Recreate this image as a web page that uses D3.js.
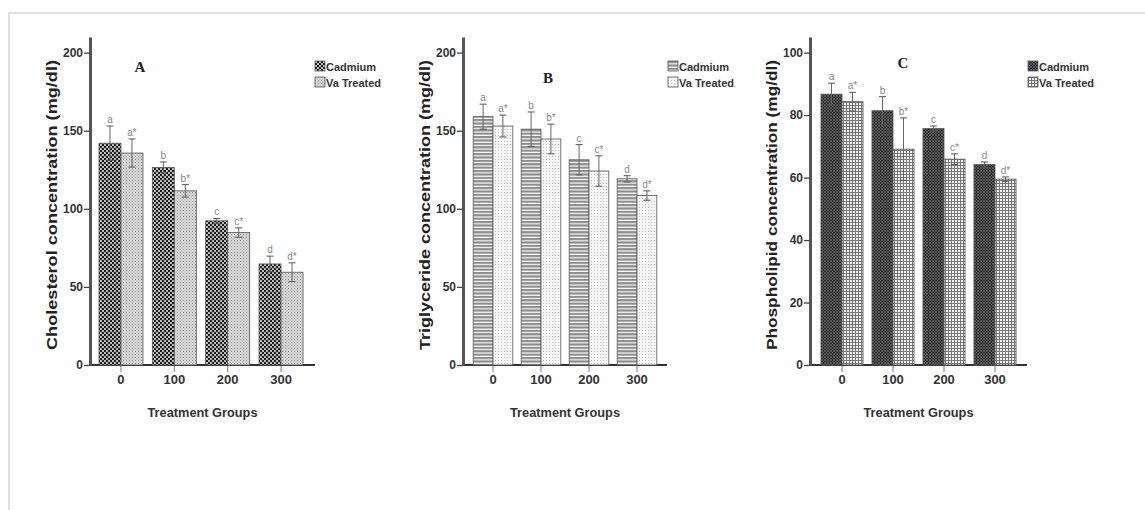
<!DOCTYPE html>
<html>
<head>
<meta charset="utf-8">
<script src="https://d3js.org/d3.v7.min.js"></script>
<style>
  body { margin: 0; background: #fff; }
  svg { display: block; }
  text { font-family: "Liberation Sans", Arial, sans-serif; }
</style>
</head>
<body>
<div id="chart"></div>
<script>
// data
var groups = ["0", "100", "200", "300"];
var seriesNames = ["Cadmium", "Va Treated"];

var cholCad = [142, 126.5, 92.3, 64.7];
var cholCadErr = [11, 3.5, 1.5, 5];
var cholVa = [135.7, 111.5, 84.8, 59.4];
var cholVaErr = [9, 4, 3, 6];

var trigCad = [159, 151, 131.4, 119.2];
var trigCadErr = [8, 11, 9.7, 2];
var trigVa = [153, 144.7, 124.2, 108.5];
var trigVaErr = [7, 9.5, 9.7, 3];

var phosCad = [86.7, 81.4, 75.7, 64.2];
var phosCadErr = [3.5, 4.5, 0.8, 0.8];
var phosVa = [84.3, 69.1, 65.9, 59.5];
var phosVaErr = [3, 10, 1.7, 0.7];

var lettersCad = ["a", "b", "c", "d"];
var lettersVa = ["a*", "b*", "c*", "d*"];

var ticksAB = [0, 50, 100, 150, 200];
var ticksC = [0, 20, 40, 60, 80, 100];

var svg = d3.select("#chart").append("svg")
    .attr("width", 1145)
    .attr("height", 510);

// ---- fill patterns (SPSS style)
var defs = svg.append("defs");

// A cadmium: black with white dots
var p = defs.append("pattern").attr("id", "pA1").attr("patternUnits", "userSpaceOnUse")
    .attr("width", 4).attr("height", 4);
p.append("rect").attr("width", 4).attr("height", 4).attr("fill", "#1e1e1e");
p.append("circle").attr("cx", 1).attr("cy", 1).attr("r", 0.95).attr("fill", "#fff");
p.append("circle").attr("cx", 3).attr("cy", 3).attr("r", 0.95).attr("fill", "#fff");

// A treated: light grey fine dots
p = defs.append("pattern").attr("id", "pA2").attr("patternUnits", "userSpaceOnUse")
    .attr("width", 3).attr("height", 3);
p.append("rect").attr("width", 3).attr("height", 3).attr("fill", "#dcdcdc");
p.append("rect").attr("x", 0).attr("y", 0).attr("width", 1).attr("height", 1).attr("fill", "#8a8a8a");
p.append("rect").attr("x", 1.5).attr("y", 1.5).attr("width", 1).attr("height", 1).attr("fill", "#9a9a9a");

// B cadmium: horizontal stripes
p = defs.append("pattern").attr("id", "pB1").attr("patternUnits", "userSpaceOnUse")
    .attr("width", 4).attr("height", 3.4);
p.append("rect").attr("width", 4).attr("height", 3.4).attr("fill", "#fff");
p.append("rect").attr("width", 4).attr("height", 2.2).attr("fill", "#8c8c8c");

// B treated: very light dots
p = defs.append("pattern").attr("id", "pB2").attr("patternUnits", "userSpaceOnUse")
    .attr("width", 3).attr("height", 3);
p.append("rect").attr("width", 3).attr("height", 3).attr("fill", "#f6f6f6");
p.append("rect").attr("x", 0).attr("y", 0).attr("width", 1).attr("height", 1).attr("fill", "#c4c4c4");

// C cadmium: dark crosshatch
p = defs.append("pattern").attr("id", "pC1").attr("patternUnits", "userSpaceOnUse")
    .attr("width", 3).attr("height", 3);
p.append("rect").attr("width", 3).attr("height", 3).attr("fill", "#2c2c2c");
p.append("path").attr("d", "M0,0L3,3M3,0L0,3").attr("stroke", "#6a6a6a").attr("stroke-width", 0.7);

// C treated: grid
p = defs.append("pattern").attr("id", "pC2").attr("patternUnits", "userSpaceOnUse")
    .attr("width", 3).attr("height", 3);
p.append("rect").attr("width", 3).attr("height", 3).attr("fill", "#f2f2f2");
p.append("path").attr("d", "M0,0.5H3M0.5,0V3").attr("stroke", "#777").attr("stroke-width", 1);

// ---- frame
svg.append("path")
    .attr("d", "M9,510V13H1145")
    .attr("fill", "none")
    .attr("stroke", "#d6d6d6")
    .attr("stroke-width", 1.5);

var panels = [
    { label: "A", title: "Cholesterol concentration (mg/dl)", cad: cholCad, cadErr: cholCadErr,
      va: cholVa, vaErr: cholVaErr, ticks: ticksAB, max: 210, fills: ["url(#pA1)", "url(#pA2)"],
      axisX: 90, xEnd: 315, bandL: 94.3, bandR: 307.7, titleX: 52, labelX: 140, labelY: 72, legX: 315 },
    { label: "B", title: "Triglyceride concentration (mg/dl)", cad: trigCad, cadErr: trigCadErr,
      va: trigVa, vaErr: trigVaErr, ticks: ticksAB, max: 210, fills: ["url(#pB1)", "url(#pB2)"],
      axisX: 463, xEnd: 667, bandL: 469, bandR: 661, titleX: 425, labelX: 548, labelY: 83, legX: 668 },
    { label: "C", title: "Phospholipid concentration (mg/dl)", cad: phosCad, cadErr: phosCadErr,
      va: phosVa, vaErr: phosVaErr, ticks: ticksC, max: 105, fills: ["url(#pC1)", "url(#pC2)"],
      axisX: 810, xEnd: 1027, bandL: 816.5, bandR: 1020.5, titleX: 772, labelX: 903, labelY: 68, legX: 1028 }
];

var yTop = 37, yBase = 365;

panels.forEach(function (pn) {
    var g = svg.append("g");

    var y = d3.scaleLinear().domain([0, pn.max]).range([yBase, yTop]);
    var x = d3.scaleBand().domain(groups).range([pn.bandL, pn.bandR])
        .paddingInner(0.175).paddingOuter(0.0875);
    var xs = d3.scaleBand().domain([0, 1]).range([0, x.bandwidth()]);

    // baseline
    g.append("line")
        .attr("x1", pn.axisX).attr("x2", pn.xEnd)
        .attr("y1", yBase).attr("y2", yBase)
        .attr("stroke", "#333").attr("stroke-width", 2);

    // bars
    var rows = [];
    groups.forEach(function (k, i) {
        rows.push({ g: k, s: 0, v: pn.cad[i], e: pn.cadErr[i], t: lettersCad[i] });
        rows.push({ g: k, s: 1, v: pn.va[i], e: pn.vaErr[i], t: lettersVa[i] });
    });

    g.selectAll("rect.bar").data(rows).enter().append("rect")
        .attr("class", "bar")
        .attr("x", function (d) { return x(d.g) + xs(d.s); })
        .attr("y", function (d) { return y(d.v); })
        .attr("width", xs.bandwidth())
        .attr("height", function (d) { return yBase - y(d.v); })
        .attr("fill", function (d) { return pn.fills[d.s]; })
        .attr("stroke", "#555")
        .attr("stroke-width", 0.8);

    // error bars
    var eb = g.selectAll("g.err").data(rows).enter().append("g")
        .attr("class", "err")
        .attr("transform", function (d) { return "translate(" + (x(d.g) + xs(d.s) + xs.bandwidth() / 2) + ",0)"; });
    eb.append("line")
        .attr("y1", function (d) { return y(d.v - d.e); })
        .attr("y2", function (d) { return y(d.v + d.e); })
        .attr("stroke", "#666").attr("stroke-width", 1);
    eb.append("line")
        .attr("x1", -3.5).attr("x2", 3.5)
        .attr("y1", function (d) { return y(d.v + d.e); })
        .attr("y2", function (d) { return y(d.v + d.e); })
        .attr("stroke", "#555").attr("stroke-width", 1);
    eb.append("line")
        .attr("x1", -3.5).attr("x2", 3.5)
        .attr("y1", function (d) { return y(d.v - d.e); })
        .attr("y2", function (d) { return y(d.v - d.e); })
        .attr("stroke", "#555").attr("stroke-width", 1);
    eb.append("text")
        .attr("y", function (d) { return y(d.v + d.e) - 3; })
        .attr("text-anchor", "middle")
        .style("font-size", "10px")
        .attr("fill", "#888")
        .text(function (d) { return d.t; });

    // y axis
    var yAxis = g.append("g")
        .attr("transform", "translate(" + pn.axisX + ",0)")
        .call(d3.axisLeft(y).tickValues(pn.ticks).tickSize(6).tickSizeOuter(0).tickPadding(1));
    yAxis.select(".domain").attr("stroke", "#555").attr("stroke-width", 3);
    yAxis.selectAll(".tick line").attr("stroke", "#444").attr("stroke-width", 1.3);
    yAxis.selectAll(".tick text")
        .attr("fill", "#333")
        .style("font-family", "'Liberation Sans Narrow', 'Liberation Sans', sans-serif")
        .style("font-size", "12px")
        .style("font-weight", "bold");

    // x axis ticks and labels
    var xAxis = g.append("g")
        .attr("transform", "translate(0," + (yBase + 1) + ")")
        .call(d3.axisBottom(x).tickSize(6).tickPadding(3));
    xAxis.select(".domain").remove();
    xAxis.selectAll(".tick line").attr("stroke", "#777").attr("stroke-width", 1);
    xAxis.selectAll(".tick text")
        .attr("fill", "#333")
        .style("font-family", "'Liberation Sans Narrow', 'Liberation Sans', sans-serif")
        .style("font-size", "13px")
        .style("font-weight", "bold");

    // axis titles
    g.append("text")
        .attr("transform", "translate(" + (pn.titleX + 5) + "," + 205 + ") rotate(-90)")
        .attr("text-anchor", "middle")
        .attr("textLength", 290)
        .attr("lengthAdjust", "spacingAndGlyphs")
        .style("font-size", "14px")
        .style("font-weight", "bold")
        .attr("fill", "#222")
        .text(pn.title);

    g.append("text")
        .attr("x", (pn.axisX + pn.xEnd) / 2)
        .attr("y", 417)
        .attr("text-anchor", "middle")
        .attr("textLength", 110)
        .attr("lengthAdjust", "spacingAndGlyphs")
        .style("font-size", "13px")
        .style("font-weight", "bold")
        .attr("fill", "#333")
        .text("Treatment Groups");

    // panel letter
    g.append("text")
        .attr("x", pn.labelX).attr("y", pn.labelY)
        .attr("text-anchor", "middle")
        .style("font-family", "'Liberation Serif', 'Times New Roman', serif")
        .style("font-size", "15px")
        .style("font-weight", "bold")
        .attr("fill", "#222")
        .text(pn.label);

    // legend
    var leg = g.selectAll("g.leg").data(seriesNames).enter().append("g")
        .attr("class", "leg")
        .attr("transform", function (d, i) { return "translate(" + pn.legX + "," + (61 + i * 16) + ")"; });
    leg.append("rect")
        .attr("width", 10).attr("height", 10)
        .attr("fill", function (d, i) { return pn.fills[i]; })
        .attr("stroke", "#555").attr("stroke-width", 0.8);
    leg.append("text")
        .attr("x", 11).attr("y", 9.5)
        .style("font-family", "'Liberation Sans Narrow', 'Liberation Sans', sans-serif")
        .style("font-size", "11px")
        .style("font-weight", "bold")
        .attr("fill", "#333")
        .text(function (d) { return d; });
});
</script>
</body>
</html>
